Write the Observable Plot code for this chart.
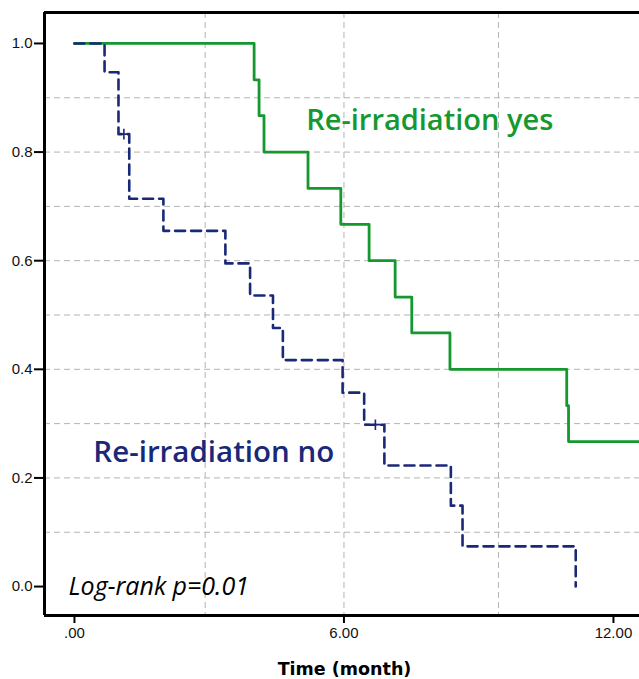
<!DOCTYPE html>
<html><head><meta charset="utf-8">
<script src="https://cdn.jsdelivr.net/npm/d3@7"></script>
<script src="https://cdn.jsdelivr.net/npm/@observablehq/plot@0.6"></script>
<style>
html,body{margin:0;padding:0;background:#fff;}
#chart svg{display:block;}
</style></head><body><div id="chart"></div>
<script>
// Kaplan-Meier: Re-irradiation yes
const yesTime = [0, 4.0, 4.11, 4.22, 5.2, 5.93, 6.56, 7.14, 7.51, 8.36, 10.96, 11.0, 12.8];
const yesSurv = [1, 0.933, 0.867, 0.8, 0.733, 0.667, 0.6, 0.533, 0.467, 0.4, 0.333, 0.267, 0.267];
// Kaplan-Meier: Re-irradiation no
const noTime = [0, 0.67, 0.98, 1.22, 1.98, 3.36, 3.91, 4.42, 4.64, 5.97, 6.45, 6.9, 8.38, 8.64, 11.16];
const noSurv = [1, 0.947, 0.833, 0.714, 0.655, 0.595, 0.536, 0.476, 0.417, 0.357, 0.298, 0.223, 0.149, 0.074, 0];
// censored observations (no group)
const censTime = [1.1, 6.7];
const censSurv = [0.833, 0.298];
// axes
const xTicks = [0, 6, 12];
const xTickLabels = [".00", "6.00", "12.00"];
const yTicks = [0, 0.2, 0.4, 0.6, 0.8, 1.0];
const gridX = [2.91, 6.0, 9.44];
const gridY = [0.1, 0.2, 0.3, 0.4, 0.5, 0.6, 0.7, 0.8, 0.9];
const xDomain = [-0.667, 12.58];
const yDomain = [-0.0533, 1.057];
// annotations
const noteText = ["Re-irradiation yes", "Re-irradiation no", "Log-rank p=0.01"];
const noteT = [5.16, 0.42, -0.13];
const noteS = [0.857, 0.247, 0.0];

const green = "#15982f";
const navy = "#1a2878";

const yesData = yesTime.map((t, i) => ({t, s: yesSurv[i]}));
const noData = noTime.map((t, i) => ({t, s: noSurv[i]}));
const censData = censTime.map((t, i) => ({t, s: censSurv[i]}));
const notes = noteText.map((text, i) => ({text, t: noteT[i], s: noteS[i]}));

const chart = Plot.plot({
  width: 639,
  height: 679,
  marginLeft: 44,
  marginTop: 12,
  marginRight: 0,
  marginBottom: 64,
  style: {fontFamily: "Liberation Sans", fontSize: "15px", color: "#000", background: "#fff"},
  x: {domain: xDomain},
  y: {domain: yDomain},
  marks: [
    Plot.ruleY(gridY, {stroke: "#b3b3b3", strokeWidth: 1, strokeDasharray: "6,4"}),
    Plot.ruleX(gridX, {stroke: "#b3b3b3", strokeWidth: 1, strokeDasharray: "6,4"}),
    Plot.line(yesData, {x: "t", y: "s", curve: "step-after", stroke: green, strokeWidth: 2.8, clip: true}),
    Plot.line(noData, {x: "t", y: "s", curve: "step-after", stroke: navy, strokeWidth: 2.6, strokeDasharray: "10,6"}),
    Plot.dot(censData, {x: "t", y: "s", symbol: "plus", r: 3.5, stroke: navy, strokeWidth: 1.6}),
    Plot.text(notes.slice(0, 1), {x: "t", y: "s", text: "text", textAnchor: "start", fill: green, fontFamily: "Open Sans", fontWeight: 600, fontSize: 29}),
    Plot.text(notes.slice(1, 2), {x: "t", y: "s", text: "text", textAnchor: "start", fill: navy, fontFamily: "Open Sans", fontWeight: 600, fontSize: 29.5}),
    Plot.text(notes.slice(2, 3), {x: "t", y: "s", text: "text", textAnchor: "start", fill: "#000", fontFamily: "Open Sans", fontStyle: "italic", fontSize: 25}),
    Plot.axisY({ticks: yTicks, tickFormat: d => d.toFixed(1), tickSize: 10, tickPadding: 2, strokeWidth: 2, label: null}),
    Plot.axisX({ticks: xTicks, tickFormat: (d, i) => xTickLabels[xTicks.indexOf(d)], tickSize: 8, tickPadding: 4, strokeWidth: 2, label: null}),
    Plot.text(["Time (month)"], {text: d => d, frameAnchor: "bottom", dx: 2.5, dy: 59, fontWeight: "bold", fontSize: 17.5, fontFamily: "DejaVu Sans"}),
    Plot.ruleX([xDomain[0]], {stroke: "#000", strokeWidth: 3}),
    Plot.ruleY(yDomain, {stroke: "#000", strokeWidth: 3})
  ]
});
// tick label typography
d3.select(chart).selectAll('g[aria-label="y-axis tick label"], g[aria-label="x-axis tick label"]')
  .style("font-size", "15px").style("font-family", "'Liberation Sans', Arial, sans-serif").style("fill", "#111");
document.getElementById("chart").appendChild(chart);
</script></body></html>
